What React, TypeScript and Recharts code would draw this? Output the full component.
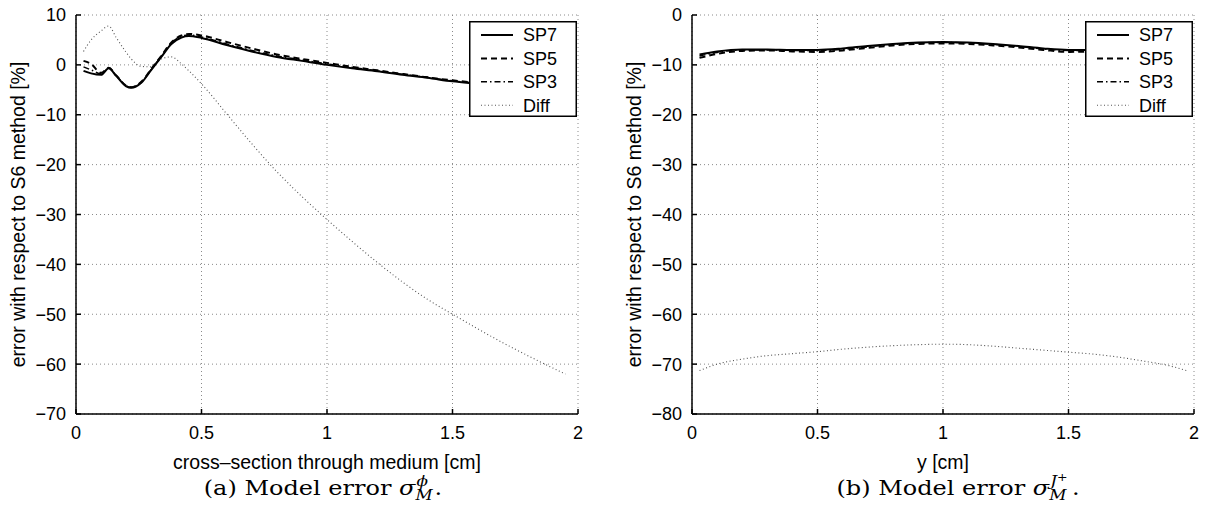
import React from "react";
import { CartesianGrid, Legend, Line, LineChart, XAxis, YAxis } from "recharts";

// (a) cross-section through medium
const phiX = [0.03, 0.06, 0.1, 0.13, 0.16, 0.2, 0.22, 0.26, 0.3, 0.34, 0.38, 0.42, 0.45, 0.5, 0.6, 0.7, 0.8, 0.9, 1.0, 1.1, 1.2, 1.3, 1.4, 1.5, 1.6, 1.7, 1.8, 1.9, 1.95];
const phiSP7 = [-1.2, -1.7, -2.0, -0.7, -2.2, -4.3, -4.6, -3.6, -1.0, 1.6, 4.2, 5.5, 5.8, 5.4, 4.0, 2.7, 1.6, 0.8, 0.0, -0.7, -1.3, -2.0, -2.6, -3.3, -3.8, -4.3, -4.8, -5.2, -5.4];
const phiSP5 = [0.8, 0.2, -1.6, -0.6, -2.1, -4.2, -4.5, -3.4, -0.8, 1.8, 4.5, 5.9, 6.2, 5.9, 4.6, 3.3, 2.1, 1.2, 0.4, -0.4, -1.1, -1.8, -2.5, -3.1, -3.6, -4.1, -4.6, -5.0, -5.2];
const phiSP3 = [-0.4, -1.0, -1.8, -0.6, -2.1, -4.2, -4.5, -3.5, -0.9, 1.7, 4.4, 5.7, 6.0, 5.6, 4.2, 2.9, 1.8, 1.0, 0.2, -0.5, -1.2, -1.9, -2.5, -3.2, -3.7, -4.2, -4.7, -5.1, -5.3];
const phiDiff = [2.7, 5.0, 6.8, 7.8, 5.5, 2.5, 1.2, -0.3, -0.4, 1.2, 1.6, 0.2, -1.2, -3.8, -9.8, -15.8, -21.4, -26.4, -31.0, -35.4, -39.6, -43.5, -47.0, -50.0, -52.9, -55.7, -58.3, -60.8, -62.0];

// (b) along y
const posX = [0.03, 0.1, 0.2, 0.3, 0.4, 0.5, 0.6, 0.7, 0.8, 0.9, 1.0, 1.1, 1.2, 1.3, 1.4, 1.5, 1.6, 1.7, 1.8, 1.9, 1.97];
const posSP7 = [-7.9, -7.3, -6.9, -6.9, -7.0, -7.0, -6.7, -6.2, -5.8, -5.5, -5.4, -5.5, -5.8, -6.2, -6.7, -7.0, -7.0, -6.9, -6.9, -7.3, -7.9];
const posSP5 = [-8.6, -7.8, -7.2, -7.1, -7.3, -7.4, -7.1, -6.6, -6.1, -5.8, -5.7, -5.8, -6.1, -6.5, -7.0, -7.4, -7.3, -7.1, -7.2, -7.8, -8.6];
const posSP3 = [-8.2, -7.5, -7.0, -7.0, -7.1, -7.1, -6.9, -6.4, -5.9, -5.6, -5.5, -5.6, -5.9, -6.3, -6.8, -7.1, -7.1, -7.0, -7.0, -7.5, -8.2];
const posDiff = [-71.3, -70.0, -69.0, -68.3, -67.9, -67.5, -67.0, -66.6, -66.3, -66.1, -66.0, -66.1, -66.4, -66.8, -67.2, -67.6, -68.0, -68.6, -69.4, -70.3, -71.3];

const xTicks = [0, 0.5, 1, 1.5, 2];
const phiTicks = [-70, -60, -50, -40, -30, -20, -10, 0, 10];
const posTicks = [-80, -70, -60, -50, -40, -30, -20, -10, 0];
const seriesNames = ["SP7", "SP5", "SP3", "Diff"];

const lineStyles: Record<string, { color: string; width: number; dash?: string }> = {
  SP7: { color: "#000", width: 2 },
  SP5: { color: "#000", width: 2, dash: "6 4" },
  SP3: { color: "#000", width: 1.5, dash: "6 3 1.5 3" },
  Diff: { color: "#555", width: 1.1, dash: "1 2.5" },
};

const SANS = "'Liberation Sans', Arial, Helvetica, sans-serif";
const SERIF = "'DejaVu Serif', serif";

const fmt = (v: number) => (v < 0 ? `\u2212${-v}` : `${v}`);

const toRows = (xs: number[], cols: number[][]) =>
  xs.map((x, i) => {
    const row: Record<string, number> = { x };
    seriesNames.forEach((n, j) => (row[n] = cols[j][i]));
    return row;
  });

const LegendBox = () => (
  <svg width={108} height={96} style={{ display: "block" }}>
    <rect x={0.75} y={0.75} width={106.5} height={94.5} fill="#fff" stroke="#000" strokeWidth={1.5} />
    {seriesNames.map((name, i) => {
      const y = 14 + i * 23.4;
      const s = lineStyles[name];
      return (
        <g key={name}>
          <line x1={12} x2={44} y1={y} y2={y} stroke={s.color} strokeWidth={s.width} strokeDasharray={s.dash} />
          <text x={54} y={y} dy="0.36em" fontSize={18} fontFamily={SANS} fill="#000">
            {name}
          </text>
        </g>
      );
    })}
  </svg>
);

const YTitle = (props: any) => {
  const vb = props.viewBox || { x: 20, y: 15, height: 399 };
  const x = vb.x - 2;
  const y = vb.y + vb.height / 2;
  return (
    <text x={x} y={y} transform={`rotate(-90 ${x} ${y})`} textAnchor="middle" dominantBaseline="central" fontSize={19.5} fontFamily={SANS} fill="#000">
      error with respect to S6 method [%]
    </text>
  );
};

// stacked super/subscript after a symbol (offsets in the script's own em)
const Stack = ({ sup, sub, width }: { sup: React.ReactNode; sub: string; width: string }) => (
  <span style={{ position: "relative", display: "inline-block", width, height: 0 }}>
    <span style={{ position: "absolute", left: 1, top: "-1.5em", fontSize: "0.7em", lineHeight: 1, fontStyle: "italic", whiteSpace: "nowrap" }}>{sup}</span>
    <span style={{ position: "absolute", left: 0, top: "-0.5em", fontSize: "0.7em", lineHeight: 1, fontStyle: "italic" }}>{sub}</span>
  </span>
);

type PanelProps = {
  left: number;
  rows: Record<string, number>[];
  yTicks: number[];
  xLabel: string;
  caption: React.ReactNode;
  captionX: number;
};

const Panel = ({ left, rows, yTicks, xLabel, caption, captionX }: PanelProps) => {
  const domain: [number, number] = [yTicks[0], yTicks[yTicks.length - 1]];
  const tickStyle = { fill: "#000", fontSize: 18, fontFamily: SANS };
  return (
    <div style={{ position: "absolute", left, top: 0, width: 607, height: 524 }}>
      <LineChart width={607} height={480} data={rows} margin={{ top: 15, right: 29, bottom: 6, left: 20 }}>
        <CartesianGrid stroke="#8a8a8a" strokeDasharray="1 3" strokeWidth={1} />
        <XAxis
          dataKey="x"
          type="number"
          domain={[0, 2]}
          ticks={xTicks}
          allowDataOverflow
          height={60}
          tickSize={-5}
          tickMargin={17}
          stroke="#000"
          strokeWidth={1.5}
          tick={tickStyle}
          tickFormatter={fmt}
          label={{ value: xLabel, position: "insideBottom", offset: 5, fill: "#000", fontSize: 19.5, fontFamily: SANS }}
        />
        <XAxis xAxisId="top" orientation="top" dataKey="x" type="number" domain={[0, 2]} ticks={xTicks} height={0} tick={false} tickSize={-5} stroke="#000" strokeWidth={1.2} />
        <YAxis
          type="number"
          domain={domain}
          ticks={yTicks}
          allowDataOverflow
          width={56}
          tickSize={-5}
          tickMargin={15}
          stroke="#000"
          strokeWidth={1.5}
          tick={tickStyle}
          tickFormatter={fmt}
          label={<YTitle />}
        />
        <YAxis yAxisId="right" orientation="right" type="number" domain={domain} ticks={yTicks} width={0} tick={false} tickSize={-5} stroke="#000" strokeWidth={1.2} />
        {[...seriesNames].reverse().map((name) => {
          const s = lineStyles[name];
          return (
            <Line
              key={name}
              dataKey={name}
              type="monotone"
              stroke={s.color}
              strokeWidth={s.width}
              strokeDasharray={s.dash}
              dot={false}
              activeDot={false}
              isAnimationActive={false}
            />
          );
        })}
        <Legend layout="vertical" align="center" verticalAlign="middle" wrapperStyle={{ left: 469, top: 21, width: 108, height: 96 }} content={() => <LegendBox />} />
      </LineChart>
      <div
        style={{
          position: "absolute",
          left: captionX - 200,
          width: 400,
          top: 478,
          textAlign: "center",
          fontFamily: SERIF,
          fontSize: 20,
          lineHeight: 1,
          color: "#000",
          whiteSpace: "nowrap",
          transform: "scaleX(1.2)",
          transformOrigin: "center",
        }}
      >
        {caption}
      </div>
    </div>
  );
};

export default function App() {
  const phiRows = toRows(phiX, [phiSP7, phiSP5, phiSP3, phiDiff]);
  const posRows = toRows(posX, [posSP7, posSP5, posSP3, posDiff]);
  return (
    <div style={{ position: "absolute", left: 0, top: 0, width: 1215, height: 524, background: "#fff", overflow: "hidden" }}>
      <Panel
        left={0}
        rows={phiRows}
        yTicks={phiTicks}
        xLabel="cross–section through medium [cm]"
        captionX={323}
        caption={
          <>
            (a) Model error <span style={{ fontStyle: "italic" }}>σ</span>
            <Stack sup="ϕ" sub="M" width="0.8em" />.
          </>
        }
      />
      <Panel
        left={616}
        rows={posRows}
        yTicks={posTicks}
        xLabel="y [cm]"
        captionX={342}
        caption={
          <>
            (b) Model error <span style={{ fontStyle: "italic" }}>σ</span>
            <Stack
              sup={
                <>
                  J<span style={{ fontStyle: "normal", fontSize: "0.75em", position: "relative", top: "-0.5em" }}>+</span>
                </>
              }
              sub="M"
              width="0.95em"
            />
            .
          </>
        }
      />
    </div>
  );
}
